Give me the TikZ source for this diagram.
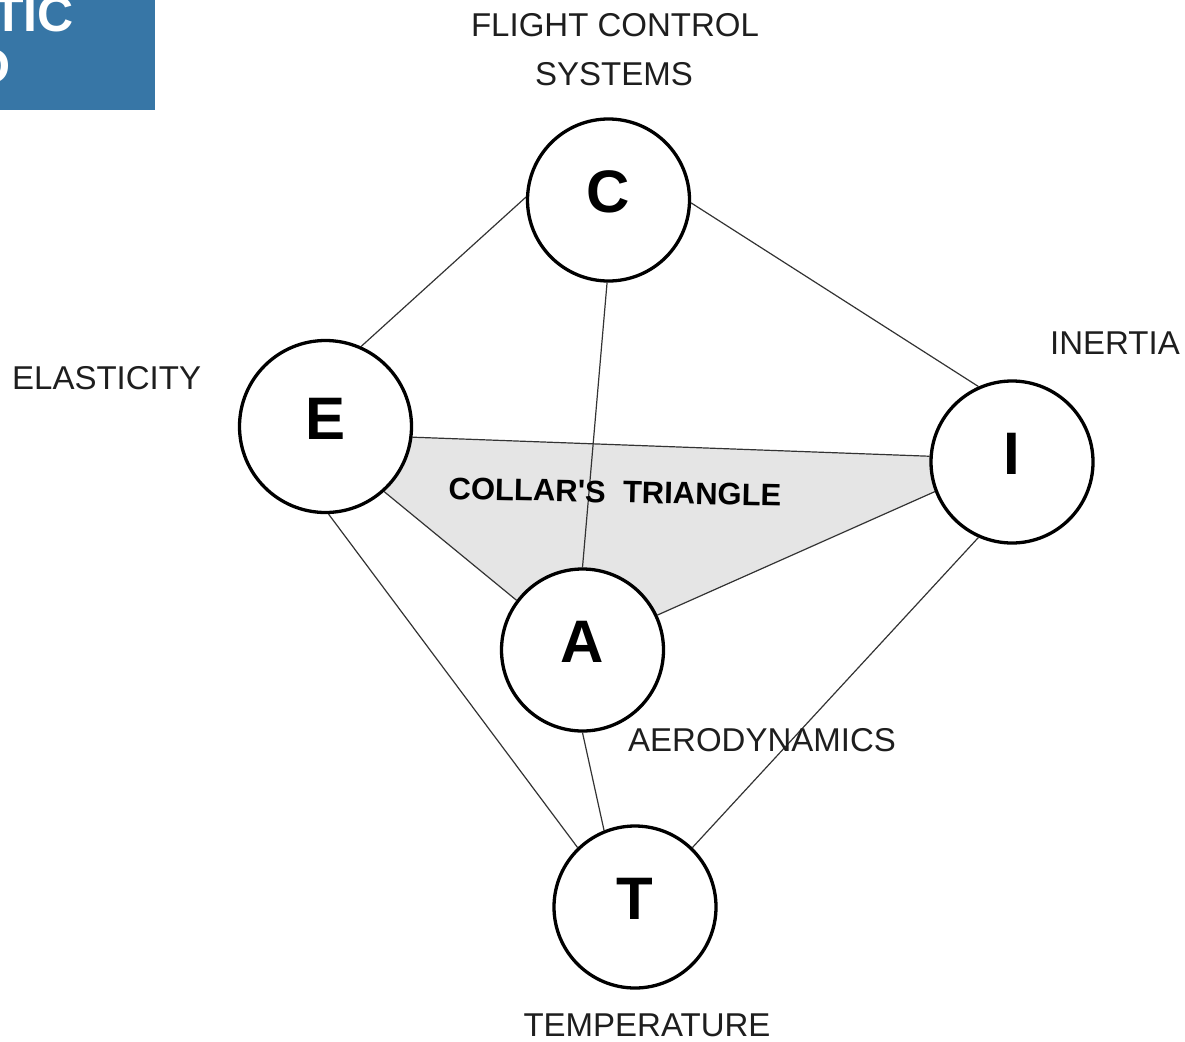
\documentclass[tikz,border=0pt]{standalone}
\usepackage{fontspec}
\setmainfont{Liberation Sans}
\usetikzlibrary{backgrounds}
\definecolor{boxblue}{RGB}{55,118,166}
\definecolor{trifill}{RGB}{229,229,229}
\definecolor{lbl}{RGB}{30,30,30}
\begin{document}
\begin{tikzpicture}[x=1pt,y=-1pt,
  ring/.style={circle,draw=black,line width=3.3pt,fill=white,inner sep=0pt,
    minimum size=162pt,font=\fontsize{60}{60}\selectfont\bfseries,text depth=16pt},
  conn/.style={draw=black!80,line width=1.2pt},
  lab/.style={font=\fontsize{33}{44}\selectfont,text=lbl,inner sep=0pt}]
\useasboundingbox (0,0) rectangle (1185,1041);
% blue title box (cropped)
\begin{scope}
\clip (0,0) rectangle (155,110);
\fill[boxblue] (0,0) rectangle (155,110);
\node[anchor=base east,inner sep=0pt,text=white,font=\fontsize{50}{50}\selectfont\bfseries] (t1) at (74,32) {TIC};
\node[anchor=base east,inner sep=0pt,text=white,font=\fontsize{50}{50}\selectfont\bfseries] (t2) at (11,83) {D};
\end{scope}
% circle nodes
\node[ring] (C) at (608.5,200) {C};
\node[ring,minimum size=172pt] (E) at (325.5,426.5) {E};
\node[ring] (I) at (1012,462) {I};
\node[ring] (A) at (582.5,650) {A};
\node[ring] (T) at (635,907) {T};
\begin{scope}[on background layer]
% triangle fill
\fill[trifill] (E.-7) -- (I.176) -- (I.201) -- (A.25) -- (A.143.5) -- (E.-48) -- cycle;
% connectors
\draw[conn] (C.178) -- (E.66.6);
\draw[conn] (C.-2) -- (I.114);
\draw[conn] (C.-91) -- (A.90);
\draw[conn] (E.-7) -- (I.176);
\draw[conn] (E.-48) -- (A.143.5);
\draw[conn] (A.25) -- (I.201);
\draw[conn] (E.-88) -- (T.134);
\draw[conn] (A.-90) -- (T.112);
\draw[conn] (I.246) -- (T.46);
\end{scope}
% labels
\node[lab] (lfcs) at (615,25) {FLIGHT CONTROL};
\node[lab] (lsys) at (614,74) {SYSTEMS};
\node[lab,anchor=west] (lela) at (12,378) {ELASTICITY};
\node[lab,anchor=west] (line) at (1050,343) {INERTIA};
\node[lab,anchor=west] (laer) at (628,740) {AERODYNAMICS};
\node[lab] (ltem) at (647,1025) {TEMPERATURE};
\node[lab,font=\fontsize{31}{31}\selectfont\bfseries,text=black,rotate=-1.2] (lcol) at (615,492) {COLLAR\textquotesingle S\ \ TRIANGLE};
\end{tikzpicture}
\end{document}
